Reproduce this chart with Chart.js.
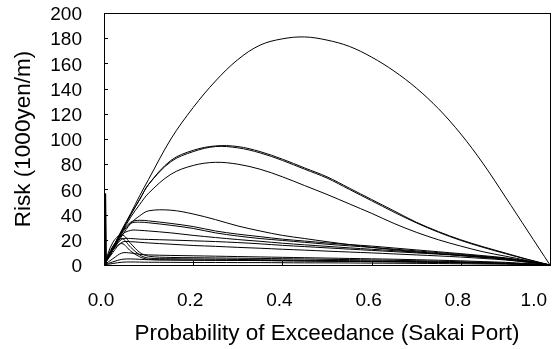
<!DOCTYPE html>
<html>
<head>
<meta charset="utf-8">
<script src="https://cdn.jsdelivr.net/npm/chart.js@4/dist/chart.umd.min.js"></script>
<style>
  html, body { margin: 0; padding: 0; background: #ffffff; }
  #wrap { width: 560px; height: 349px; }
</style>
</head>
<body>
<div id="wrap"><canvas id="c" width="560" height="349"></canvas></div>
<script>
// Probability of exceedance grid (x) shared by the smooth curves
const probs = [0, 0.02, 0.04, 0.06, 0.08, 0.1, 0.15, 0.2, 0.25, 0.3, 0.35, 0.4, 0.45, 0.5, 0.55, 0.6, 0.65, 0.7, 0.75, 0.8, 0.85, 0.9, 0.95, 1.0];

// Risk values (1000 yen/m) for each curve
const riskA  = [0, 14, 28, 41, 55, 68, 100, 125, 146, 163, 174.5, 179.5, 181, 178.5, 173.5, 165, 154, 140.5, 124, 104, 80.5, 54, 27, 0];
const riskB1 = [0, 14, 27, 40, 52, 64, 83, 91, 94.5, 94, 90, 84, 77, 70, 61, 52, 43, 34, 26.5, 20, 14.5, 9.5, 4.5, 0];
const riskB2 = [0, 14, 27, 40, 52, 64, 82, 90, 94, 93, 89, 83, 76, 69, 60, 51, 42, 33.5, 26, 19.5, 14, 9, 4.3, 0];
const riskC  = [0, 13, 26, 38, 48, 57, 72, 79, 81.5, 80, 76, 70, 63, 56, 48.5, 41, 33, 26, 20, 15, 10.5, 7, 3.5, 0];
const riskD  = [0, 12, 23, 33, 39, 43, 43.5, 40.5, 36, 31, 27, 23.5, 21, 18.5, 16.2, 14, 12.2, 10.5, 9, 7.5, 6, 4.3, 2.2, 0];
const riskE1 = [0, 12, 26, 34, 35.5, 35, 33, 30.5, 27, 24.5, 22.5, 20.5, 19, 17.5, 16.2, 15, 13.5, 12, 10.5, 9, 7.4, 5.7, 3.1, 0];
const riskE2 = [0, 12, 25, 33, 34, 33.5, 31.5, 29, 25.5, 23, 21, 19.5, 18, 16.5, 15.2, 14, 12.6, 11.2, 9.8, 8.4, 6.9, 5.3, 2.9, 0];
const riskF  = [0, 12, 24, 27.5, 27.5, 27, 25.5, 23.5, 21.8, 20.2, 18.8, 17.3, 16, 14.8, 13.6, 12.5, 11.4, 10.2, 9, 7.8, 6.5, 5, 2.8, 0];
const riskG  = [0, 12, 20.5, 21, 20.5, 20.3, 19.8, 19.2, 18.6, 17.8, 16.8, 15.6, 14.6, 13.6, 12.6, 11.6, 10.6, 9.6, 8.6, 7.5, 6.2, 4.8, 2.6, 0];
const riskH  = [0, 10, 18, 18.5, 18, 17.5, 16.5, 15.5, 14.8, 14, 13.3, 12.5, 11.8, 11, 10.3, 9.6, 8.8, 8, 7.2, 6.3, 5.2, 4, 2.2, 0];
const riskI  = [0, 18, 24, 17, 10, 7, 6, 5.8, 5.6, 5.4, 5.2, 5, 4.8, 4.5, 4.3, 4, 3.7, 3.4, 3, 2.6, 2.1, 1.6, 0.9, 0];
const riskJ  = [0, 15, 21, 14, 8, 5.5, 5, 4.8, 4.6, 4.4, 4.2, 4, 3.8, 3.6, 3.4, 3.2, 3, 2.7, 2.4, 2.1, 1.7, 1.3, 0.7, 0];
const riskK  = [0, 12, 17, 11, 6.5, 4.5, 4, 3.8, 3.7, 3.6, 3.5, 3.3, 3.1, 2.9, 2.8, 2.6, 2.4, 2.2, 2, 1.7, 1.4, 1.1, 0.6, 0];
const riskL  = [0, 5, 9.5, 9.5, 8.5, 8, 7.6, 7.3, 7, 6.7, 6.4, 6.1, 5.8, 5.5, 5.2, 4.9, 4.6, 4.2, 3.8, 3.3, 2.7, 2.1, 1.1, 0];
const riskM  = [0, 2.5, 4.5, 4.8, 4.5, 4.2, 4, 3.9, 3.8, 3.7, 3.6, 3.5, 3.3, 3.2, 3.05, 2.9, 2.7, 2.5, 2.2, 1.9, 1.6, 1.2, 0.6, 0];
const riskN  = [0, 1.2, 2.2, 2.4, 2.3, 2.2, 2.1, 2, 2, 1.9, 1.9, 1.8, 1.7, 1.7, 1.6, 1.5, 1.4, 1.3, 1.15, 1, 0.8, 0.6, 0.3, 0];

// Spike right at zero probability
const spikeProbs = [0, 0.002, 0.004];
const spikeRisk  = [0, 57, 0];

// Axis ticks
const xTicks = [0, 0.2, 0.4, 0.6, 0.8, 1.0];
const xTickLabels = ['0.0', '0.2', '0.4', '0.6', '0.8', '1.0'];
const yTicks = [0, 20, 40, 60, 80, 100, 120, 140, 160, 180, 200];

const curves = [riskA, riskB1, riskB2, riskC, riskD, riskE1, riskE2, riskF, riskG, riskH, riskI, riskJ, riskK, riskL, riskM, riskN];

const datasets = curves.map(vals => ({
  data: probs.map((p, i) => ({ x: p, y: vals[i] })),
  borderColor: '#000000',
  borderWidth: 1,
  pointRadius: 0,
  showLine: true,
  fill: false,
  tension: 0.35
}));
datasets.push({
  data: spikeProbs.map((p, i) => ({ x: p, y: spikeRisk[i] })),
  borderColor: '#000000',
  borderWidth: 2.5,
  pointRadius: 0,
  showLine: true,
  fill: false,
  tension: 0
});

const TICK_FONT = { family: '"Liberation Sans", Arial, sans-serif', size: 19 };
const TITLE_FONT = { family: '"Liberation Sans", Arial, sans-serif', size: 22.5 };

const framePlugin = {
  id: 'frame',
  afterDatasetsDraw(chart) {
    const { ctx, chartArea: a, scales } = chart;
    ctx.save();
    ctx.strokeStyle = '#000';
    ctx.lineWidth = 1;
    ctx.strokeRect(Math.round(a.left) + 0.5, Math.round(a.top) + 0.5, Math.round(a.right - a.left), Math.round(a.bottom - a.top));
    ctx.beginPath();
    yTicks.forEach(v => {
      const y = Math.round(scales.y.getPixelForValue(v)) + 0.5;
      ctx.moveTo(a.left, y); ctx.lineTo(a.left + 4, y);
    });
    xTicks.forEach(v => {
      const x = Math.round(scales.x.getPixelForValue(v)) + 0.5;
      ctx.moveTo(x, a.bottom); ctx.lineTo(x, a.bottom - 4);
    });
    ctx.stroke();
    ctx.restore();
  }
};

new Chart(document.getElementById('c'), {
  type: 'scatter',
  data: { datasets },
  options: {
    responsive: false,
    animation: false,
    devicePixelRatio: 1,
    layout: { padding: { left: 0, top: 13, right: 10, bottom: 0 } },
    plugins: { legend: { display: false }, tooltip: { enabled: false } },
    scales: {
      x: {
        type: 'linear', min: 0, max: 1,
        afterBuildTicks(s) { s.ticks = xTicks.map(v => ({ value: v })); },
        afterFit(s) { s.height = 84; s.paddingRight = 0; s.paddingLeft = 0; },
        grid: { display: false, drawTicks: false },
        border: { display: false },
        ticks: {
          font: TICK_FONT, color: '#000', padding: 24, maxRotation: 0, autoSkip: false,
          labelOffset: -3,
          callback(v, i) { return i === xTickLabels.length - 1 ? xTickLabels[i] + '\u00a0\u00a0\u00a0\u00a0\u00a0' : xTickLabels[i]; }
        },
        title: { display: true, text: 'Probability of Exceedance (Sakai Port)', font: TITLE_FONT, color: '#000', padding: { top: 0, bottom: 2 } }
      },
      y: {
        type: 'linear', min: 0, max: 200,
        afterBuildTicks(s) { s.ticks = yTicks.map(v => ({ value: v })); },
        afterFit(s) { s.width = 104; s.paddingTop = 0; s.paddingBottom = 0; },
        grid: { display: false, drawTicks: false },
        border: { display: false },
        ticks: { font: TICK_FONT, color: '#000', padding: 22, labelOffset: 2, autoSkip: false },
        title: { display: true, text: 'Risk (1000yen/m)', font: TITLE_FONT, color: '#000', padding: { top: 10, bottom: 0 } }
      }
    }
  },
  plugins: [framePlugin]
});
</script>
</body>
</html>
